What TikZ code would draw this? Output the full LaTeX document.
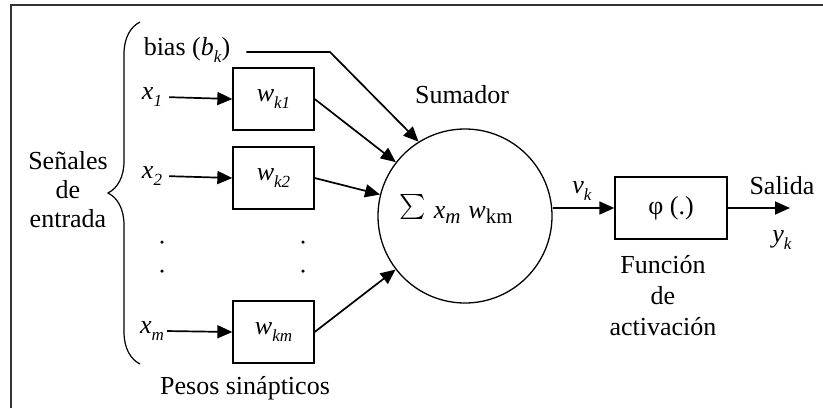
\documentclass[tikz,border=0pt]{standalone}
\usepackage{fontspec}
\setmainfont{Liberation Serif}
\usetikzlibrary{arrows.meta,decorations.pathreplacing}
\newcommand\lsub[1]{\raisebox{-0.25em}{\fontsize{17}{17}\selectfont #1}}
\newcommand\msub[1]{\raisebox{-0.2em}{\fontsize{21}{21}\selectfont #1}}
\begin{document}
\begin{tikzpicture}[x=1pt,y=-1pt, font=\fontsize{26}{30}\selectfont,
  wbox/.style={draw, line width=1.3pt, minimum width=81pt, minimum height=62pt, inner sep=0pt},
  arr/.style={line width=1.7pt, -{Triangle[length=15pt,width=13pt]}},
  lbl/.style={inner sep=1pt},
  dotm/.style={circle, fill, inner sep=0pt, minimum size=3.5pt}]
\useasboundingbox (0,0) rectangle (823,408);
\draw[line width=2pt, black!80] (11,408) -- (11,5) -- (823,5);

% input labels
\node[lbl] (bias) at (187,50) {bias (\textit{b}\lsub{\textit{k}})};
\node[lbl] (x1) at (152,97) {\textit{x}\lsub{\textit{1}}};
\node[lbl] (x2) at (152,176) {\textit{x}\lsub{\textit{2}}};
\node[lbl] (xm) at (152,331) {\textit{x}\lsub{\textit{m}}};

% weight boxes
\node[wbox] (b1) at (273.5,99) {\textit{w}\lsub{\textit{k1}}};
\node[wbox] (b2) at (273.5,178) {\textit{w}\lsub{\textit{k2}}};
\node[wbox] (bm) at (273.5,332) {\textit{w}\lsub{\textit{km}}};

% dots
\node[dotm] (d1) at (162,242) {};
\node[dotm] (d2) at (162,271) {};
\node[dotm] (d3) at (303,242) {};
\node[dotm] (d4) at (303,271) {};

% summation
\node[draw, circle, line width=1.3pt, minimum size=174pt, inner sep=0pt] (sum) at (465,216) {};
\node[lbl] (sumtxt) at (456,209) {\raisebox{-4pt}{\scalebox{2.5}{$\textstyle\sum$}}\hspace{8pt}\textit{x}\msub{\textit{m}}\hspace{8pt}\textit{w}\msub{km}};
\node[lbl] (sumador) at (462,95) {Sumador};

% activation
\node[wbox, minimum width=112pt] (phi) at (671,208) {φ (.)};
\node[lbl, align=center, font=\fontsize{26}{31}\selectfont] (act) at (663,296) {Función\\de\\activación};
\coordinate (out) at (790,208);
\node[lbl] (salida) at (782,186) {Salida};
\node[lbl] (yk) at (782,240) {\textit{y}\lsub{\textit{k}}};
\node[lbl] (vk) at (582,191) {\textit{v}\lsub{\textit{k}}};

% left labels
\node[lbl, align=center, font=\fontsize{26}{29}\selectfont] (senales) at (68,190) {Señales\\de\\entrada};
\node[lbl] (pesos) at (245,388) {Pesos sinápticos};

% brace
\coordinate (brb) at (140,364);
\coordinate (brt) at (140,22);
\draw[line width=1.2pt, decorate, decoration={brace, amplitude=32pt}] (brb) -- (brt);

% connectors
\draw[arr, shorten <=6pt] (x1.east) -- (b1.west);
\draw[arr, shorten <=6pt] (x2.east) -- (b2.west);
\draw[arr, shorten <=2pt] (xm.east) -- (bm.west);
\draw[arr] (b1.east) -- (sum);
\draw[arr] (b2.east) -- (sum);
\draw[arr] (bm.east) -- (sum);
\coordinate (bk) at (330,52);
\draw[arr] (bias.east) ++(15,2) -- (bk) -- (sum.122);
\draw[arr] (phi.west -| sum.east) -- (phi.west);
\draw[arr] (phi.east) -- (out);
\end{tikzpicture}
\end{document}
